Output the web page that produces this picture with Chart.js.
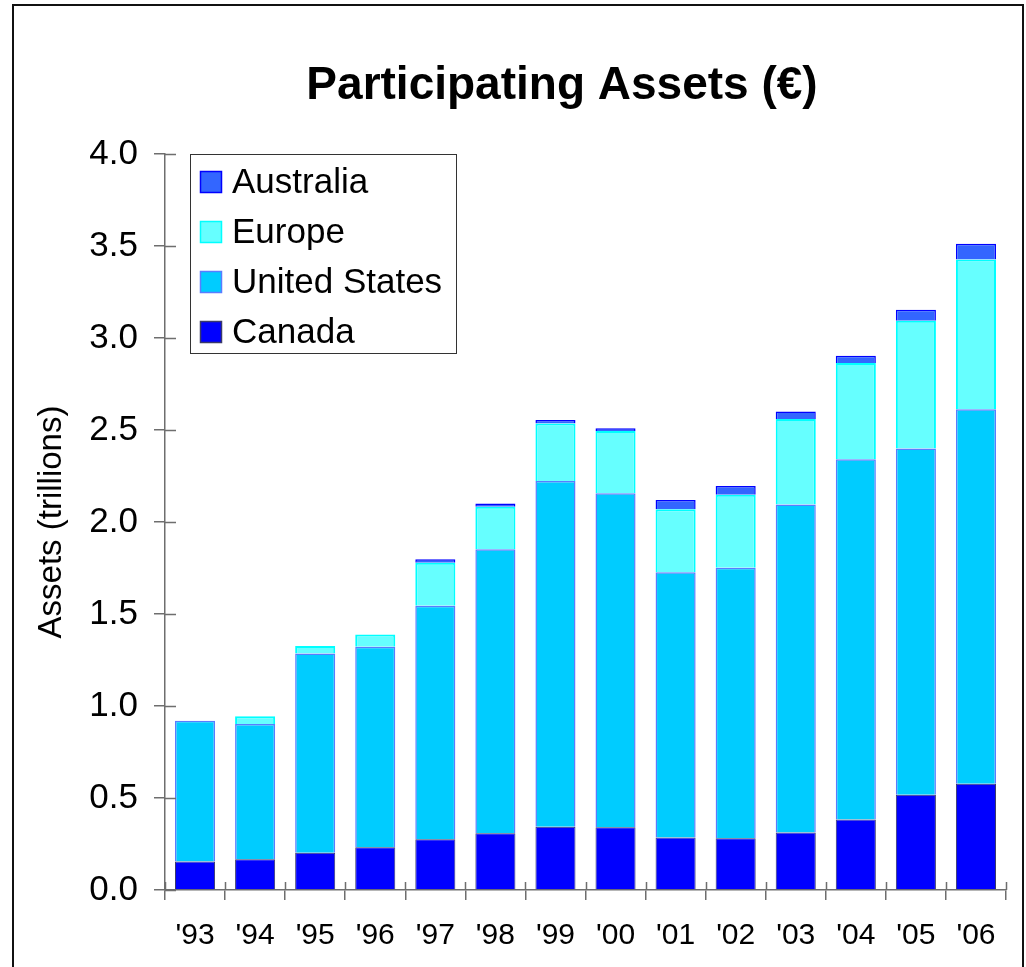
<!DOCTYPE html>
<html>
<head>
<meta charset="utf-8">
<script src="https://cdn.jsdelivr.net/npm/chart.js@4/dist/chart.umd.min.js"></script>
<style>
html, body { margin: 0; padding: 0; background: #fff; }
#wrap { position: relative; width: 1026px; height: 967px; }
</style>
</head>
<body>
<div id="wrap"><canvas id="assetsChart" width="1026" height="967"></canvas></div>
<script>
const years = ["'93", "'94", "'95", "'96", "'97", "'98", "'99", "'00", "'01", "'02", "'03", "'04", "'05", "'06"];
const canada = [0.155, 0.167, 0.203, 0.232, 0.276, 0.308, 0.344, 0.341, 0.286, 0.281, 0.313, 0.383, 0.518, 0.578];
const unitedStates = [0.765, 0.735, 1.083, 1.090, 1.269, 1.544, 1.879, 1.815, 1.441, 1.471, 1.782, 1.958, 1.881, 2.035];
const europe = [null, 0.042, 0.040, 0.066, 0.234, 0.231, 0.313, 0.339, 0.342, 0.396, 0.465, 0.523, 0.695, 0.813];
const australia = [null, null, null, null, 0.018, 0.018, 0.018, 0.014, 0.051, 0.048, 0.041, 0.039, 0.060, 0.086];

const fontFamily = "'Liberation Sans', Arial, sans-serif";
const axisColor = '#6e6e6e';

// ticks in the original cross the axis line, chart.js only draws the outer half
const crossTicks = {
  id: 'crossTicks',
  afterDatasetsDraw(chart) {
    const { ctx, chartArea, scales } = chart;
    ctx.save();
    ctx.strokeStyle = axisColor;
    ctx.lineWidth = 1.5;
    ctx.beginPath();
    scales.y.ticks.forEach((t, i) => {
      const y = Math.round(scales.y.getPixelForTick(i)) + 0.5;
      ctx.moveTo(chartArea.left, y);
      ctx.lineTo(chartArea.left + 11, y);
    });
    const step = scales.x.width / years.length;
    for (let i = 0; i <= years.length; i++) {
      const x = Math.round(chartArea.left + i * step) + 0.5;
      ctx.moveTo(x, chartArea.bottom);
      ctx.lineTo(x, chartArea.bottom - 8);
    }
    ctx.stroke();
    ctx.restore();
  }
};

const boxedLegend = {
  id: 'boxedLegend',
  afterDraw(chart) {
    const { ctx, chartArea } = chart;
    const x0 = chartArea.left + 25, y0 = chartArea.top;
    ctx.save();
    ctx.fillStyle = '#fff';
    ctx.fillRect(x0, y0, 266, 199);
    ctx.strokeStyle = '#333';
    ctx.lineWidth = 1;
    ctx.strokeRect(x0 + 0.5, y0 + 0.5, 266, 199);
    ctx.font = '35px ' + fontFamily;
    ctx.textBaseline = 'middle';
    const items = chart.data.datasets.slice().reverse();
    items.forEach((ds, i) => {
      const cy = y0 + 28 + i * 50;
      ctx.fillStyle = ds.backgroundColor;
      ctx.fillRect(x0 + 10, cy - 11, 22, 22);
      ctx.strokeStyle = ds.borderColor;
      ctx.lineWidth = 1.5;
      ctx.strokeRect(x0 + 10.5, cy - 10.5, 21, 21);
      ctx.fillStyle = '#000';
      ctx.fillText(ds.label, x0 + 42, cy + 1);
    });
    ctx.restore();
  }
};

const frameAndTitle = {
  id: 'frameAndTitle',
  afterDraw(chart) {
    const { ctx } = chart;
    ctx.save();
    ctx.strokeStyle = '#111';
    ctx.lineWidth = 2;
    ctx.strokeRect(13, 5, 1010, 1000);
    ctx.fillStyle = '#000';
    ctx.font = 'bold 46px ' + fontFamily;
    ctx.textAlign = 'center';
    ctx.textBaseline = 'middle';
    ctx.fillText('Participating Assets (€)', 562, 86);
    ctx.restore();
  }
};

new Chart(document.getElementById('assetsChart'), {
  type: 'bar',
  data: {
    labels: years,
    datasets: [
      { label: 'Canada', data: canada, backgroundColor: '#0000FF', borderColor: '#3a3a6a', borderWidth: 1 },
      { label: 'United States', data: unitedStates, backgroundColor: '#00CCFF', borderColor: '#5a7cff', borderWidth: 1.5 },
      { label: 'Europe', data: europe, backgroundColor: '#66FFFF', borderColor: '#00FFFF', borderWidth: 2 },
      { label: 'Australia', data: australia, backgroundColor: '#3366FF', borderColor: '#0000FF', borderWidth: 1.5 }
    ]
  },
  options: {
    responsive: false,
    animation: false,
    layout: { padding: { top: 154, right: 20, left: 0, bottom: 0 } },
    datasets: { bar: { categoryPercentage: 1, barPercentage: 0.667 } },
    plugins: {
      legend: { display: false },
      title: { display: false },
      tooltip: { enabled: false }
    },
    scales: {
      x: {
        stacked: true,
        afterFit(s) { s.height = 77; },
        border: { color: axisColor, width: 1.5 },
        grid: { drawOnChartArea: false, tickLength: 10, color: axisColor, lineWidth: 1.5 },
        ticks: { color: '#000', font: { family: fontFamily, size: 30 }, maxRotation: 0, padding: 18 }
      },
      y: {
        stacked: true,
        min: 0,
        max: 4,
        afterFit(s) { s.width = 165; },
        border: { color: axisColor, width: 1.5 },
        grid: { drawOnChartArea: false, tickLength: 11, color: axisColor, lineWidth: 1.5 },
        ticks: {
          stepSize: 0.5,
          color: '#000',
          padding: 16,
          font: { family: fontFamily, size: 35 },
          callback: v => v.toFixed(1)
        },
        title: {
          display: true,
          text: 'Assets (trillions)',
          color: '#000',
          font: { family: fontFamily, size: 33 },
          padding: { top: 32, bottom: 0 }
        }
      }
    }
  },
  plugins: [crossTicks, boxedLegend, frameAndTitle]
});
</script>
</body>
</html>
